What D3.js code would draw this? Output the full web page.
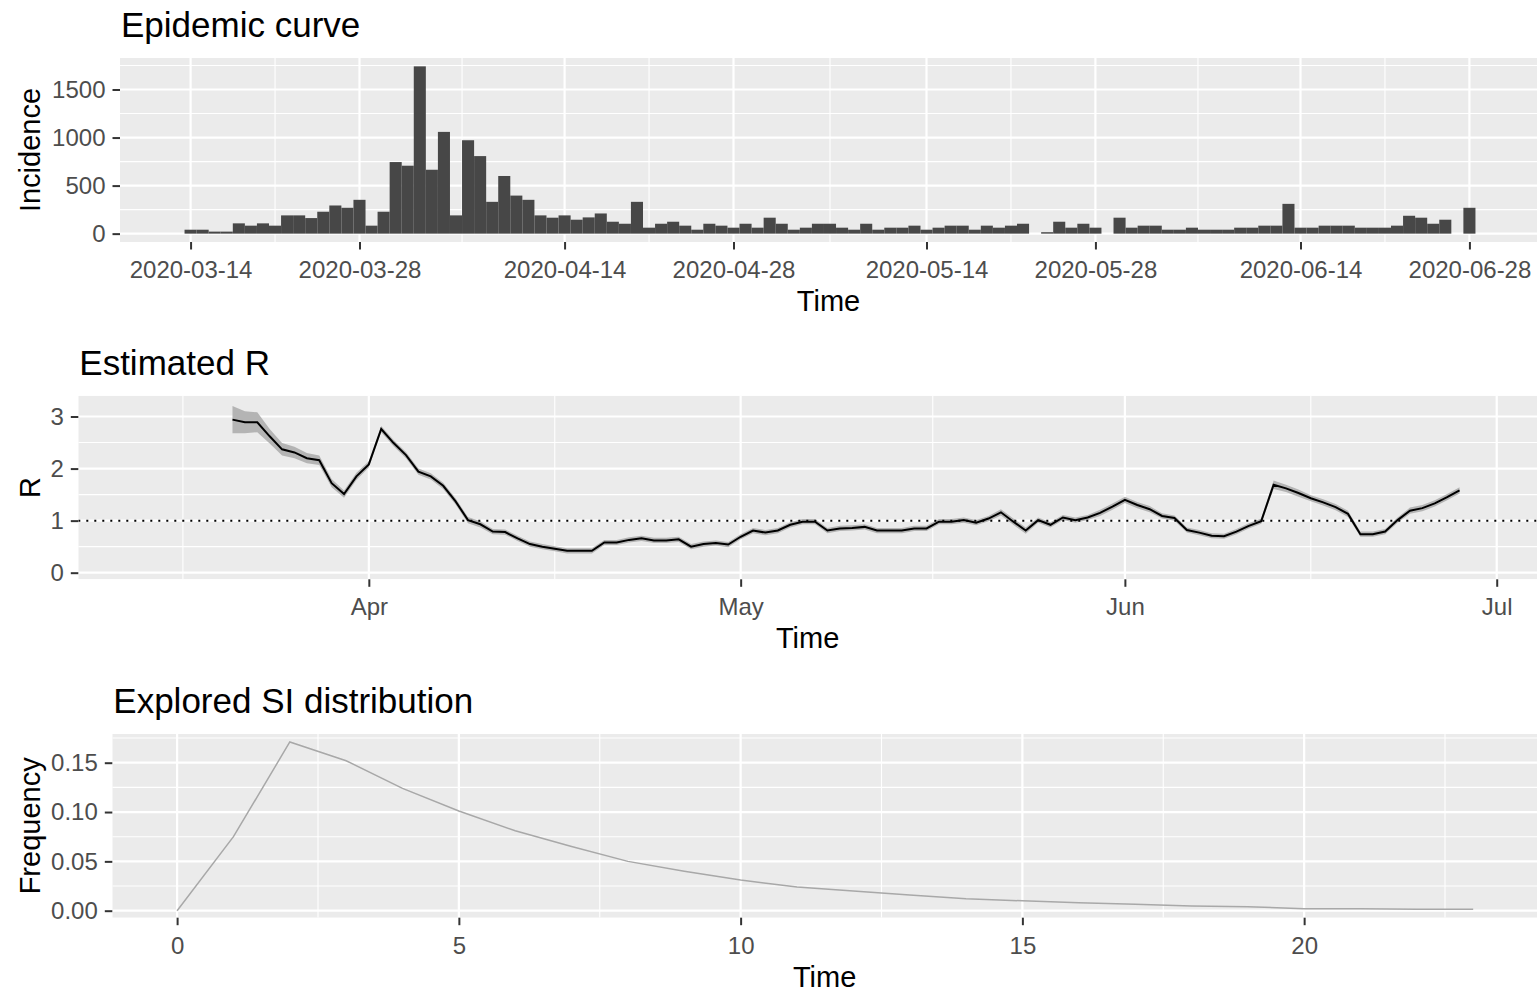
<!DOCTYPE html>
<html>
<head>
<meta charset="utf-8">
<script src="https://cdn.jsdelivr.net/npm/d3@7"></script>
<style>
  body { margin: 0; background: #ffffff; }
  svg { display: block; font-family: "Liberation Sans", Arial, sans-serif; }
</style>
</head>
<body>
<svg id="chart" width="1537" height="995"></svg>
<script>
const DAY = 864e5;
const parse = d3.utcParse("%Y-%m-%d");

// daily incidence, first day 2020-03-14
const incidenceStart = "2020-03-14";
const incidence = [
  41, 41, 21, 21, 107, 83, 107, 83, 190, 190, 162, 228, 293, 269, 352, 83,
  228, 745, 707, 1741, 665, 1059, 190, 972, 807, 331, 600, 396, 352, 190, 166,
  190, 145, 169, 210, 124, 103, 331, 62, 103, 124, 83, 41, 103, 83, 62, 103,
  62, 166, 103, 41, 62, 103, 103, 62, 41, 103, 41, 62, 62, 83, 41, 62, 83, 83,
  41, 83, 62, 83, 103, 0, 15, 124, 62, 103, 62, 0, 166, 62, 83, 83, 41, 41, 62,
  41, 41, 41, 62, 62, 83, 83, 310, 62, 62, 83, 83, 83, 62, 62, 62, 83, 186, 166,
  103, 145, 0, 269
];
const incidenceTicks = ["2020-03-14", "2020-03-28", "2020-04-14", "2020-04-28",
  "2020-05-14", "2020-05-28", "2020-06-14", "2020-06-28"];
const incidenceYTicks = [0, 500, 1000, 1500];

// estimated R (mean and half width of the band), first day 2020-03-21
const rStart = "2020-03-21";
const rMean = [
  2.94, 2.89, 2.89, 2.62, 2.37, 2.31, 2.20, 2.16, 1.72, 1.51, 1.85,
  2.08, 2.76, 2.49, 2.26, 1.94, 1.85, 1.67, 1.37, 1.01, 0.93, 0.79, 0.78, 0.66,
  0.55, 0.50, 0.46, 0.42, 0.42, 0.42, 0.58, 0.58, 0.63, 0.66, 0.62, 0.62, 0.64,
  0.50, 0.55, 0.57, 0.54,
  0.69, 0.81, 0.77, 0.81, 0.92, 0.98, 0.98, 0.81, 0.85, 0.86, 0.88, 0.81, 0.81,
  0.81, 0.85, 0.85, 0.98, 0.98, 1.01, 0.96, 1.04, 1.16, 0.98, 0.81, 1.01, 0.92,
  1.06, 1.01, 1.06, 1.15, 1.27,
  1.40, 1.30, 1.22, 1.09, 1.05, 0.82, 0.77, 0.71, 0.70, 0.79, 0.90, 0.99, 1.69,
  1.62, 1.53, 1.43, 1.35, 1.26, 1.13, 0.74, 0.74, 0.79, 1.01, 1.19, 1.24, 1.33,
  1.45, 1.58
];
const rHalf = [
  0.26, 0.21, 0.19, 0.14, 0.12, 0.11, 0.10, 0.09, 0.08, 0.07, 0.07,
  0.06, 0.06, 0.06, 0.06, 0.06, 0.06, 0.06, 0.06, 0.06, 0.06, 0.05, 0.05, 0.05,
  0.05, 0.05, 0.05, 0.05, 0.05, 0.05, 0.05, 0.05, 0.05, 0.05, 0.05, 0.05, 0.05,
  0.05, 0.05, 0.05, 0.05,
  0.05, 0.05, 0.05, 0.05, 0.05, 0.05, 0.05, 0.05, 0.05, 0.05, 0.05, 0.05, 0.05,
  0.05, 0.05, 0.05, 0.05, 0.05, 0.05, 0.05, 0.05, 0.06, 0.06, 0.06, 0.05, 0.05,
  0.05, 0.05, 0.05, 0.06, 0.06,
  0.06, 0.06, 0.06, 0.05, 0.05, 0.05, 0.05, 0.05, 0.05, 0.05, 0.05, 0.05, 0.08,
  0.07, 0.07, 0.06, 0.06, 0.06, 0.06, 0.05, 0.05, 0.05, 0.05, 0.06, 0.06, 0.06,
  0.06, 0.06
];
const rMonthTicks = ["2020-04-01", "2020-05-01", "2020-06-01", "2020-07-01"];
const rYTicks = [0, 1, 2, 3];

// serial interval distribution, days 0..23
const siValues = [0, 0.075, 0.171, 0.152, 0.124, 0.101, 0.081, 0.065, 0.050,
  0.040, 0.031, 0.024, 0.020, 0.016, 0.012, 0.010, 0.008, 0.0065, 0.0048,
  0.004, 0.002, 0.002, 0.0015, 0.0015];
const siXTicks = [0, 5, 10, 15, 20];
const siYTicks = [0, 0.05, 0.10, 0.15];

const svg = d3.select("#chart");

// minor breaks halfway between majors, one extra step on each side (like ggplot)
function minorBreaks(major) {
  const v = major.map(Number);
  const ext = [v[0] - (v[1] - v[0]), ...v, v[v.length - 1] + (v[v.length - 1] - v[v.length - 2])];
  const out = [];
  for (let i = 0; i < ext.length - 1; i++) out.push((ext[i] + ext[i + 1]) / 2);
  return out;
}

function panel(p, x, y, xMajor, yMajor, xFormat, yFormat, title, yLabel) {
  const g = svg.append("g");
  const clipId = "clip" + Math.round(p.top);
  svg.append("clipPath").attr("id", clipId).append("rect")
    .attr("x", p.left).attr("y", p.top)
    .attr("width", p.right - p.left).attr("height", p.bottom - p.top);

  const grid = g.append("g").attr("clip-path", `url(#${clipId})`);
  grid.append("rect")
    .attr("x", p.left).attr("y", p.top)
    .attr("width", p.right - p.left).attr("height", p.bottom - p.top)
    .attr("fill", "#EBEBEB");

  const xMinor = minorBreaks(xMajor);
  const yMinor = minorBreaks(yMajor);
  grid.selectAll(".ymin").data(yMinor).join("line")
    .attr("x1", p.left).attr("x2", p.right)
    .attr("y1", d => y(d)).attr("y2", d => y(d))
    .attr("stroke", "#fff").attr("stroke-width", 1.1);
  grid.selectAll(".xmin").data(xMinor).join("line")
    .attr("y1", p.top).attr("y2", p.bottom)
    .attr("x1", d => x(d)).attr("x2", d => x(d))
    .attr("stroke", "#fff").attr("stroke-width", 1.1);
  grid.selectAll(".ymaj").data(yMajor).join("line")
    .attr("x1", p.left).attr("x2", p.right)
    .attr("y1", d => y(d)).attr("y2", d => y(d))
    .attr("stroke", "#fff").attr("stroke-width", 2.2);
  grid.selectAll(".xmaj").data(xMajor).join("line")
    .attr("y1", p.top).attr("y2", p.bottom)
    .attr("x1", d => x(d)).attr("x2", d => x(d))
    .attr("stroke", "#fff").attr("stroke-width", 2.2);

  const styleAxis = a => {
    a.select(".domain").remove();
    a.attr("font-family", null).attr("font-size", null);
    a.selectAll(".tick line").attr("stroke", "#333333").attr("stroke-width", 2);
    a.selectAll(".tick text").attr("fill", "#4D4D4D").style("font-size", "24px");
  };

  g.append("g").attr("transform", `translate(0,${p.bottom})`)
    .call(d3.axisBottom(x).tickValues(xMajor).tickFormat(xFormat)
      .tickSize(7.5).tickPadding(11.5).tickSizeOuter(0))
    .call(styleAxis);
  g.append("g").attr("transform", `translate(${p.left},0)`)
    .call(d3.axisLeft(y).tickValues(yMajor).tickFormat(yFormat)
      .tickSize(7.5).tickPadding(7).tickSizeOuter(0))
    .call(styleAxis);

  svg.append("text").attr("x", p.left + 1).attr("y", p.titleY)
    .style("font-size", "35px").attr("fill", "#000").text(title);
  svg.append("text")
    .attr("transform", `translate(39.5,${(p.top + p.bottom) / 2}) rotate(-90)`)
    .attr("text-anchor", "middle").style("font-size", "29px").attr("fill", "#000")
    .text(yLabel);
  svg.append("text").attr("x", (p.left + Math.min(p.right, 1537)) / 2).attr("y", p.timeY)
    .attr("text-anchor", "middle").style("font-size", "29px").attr("fill", "#000")
    .text("Time");

  return grid;
}

// ---------- Epidemic curve ----------
const p1 = { left: 120, right: 1540, top: 58, bottom: 242, titleY: 37, timeY: 311 };
const d0 = parse(incidenceStart);
const incRows = incidence.map((v, i) => ({ date: new Date(+d0 + i * DAY), v }));
const x1 = d3.scaleUtc()
  .domain([new Date(+d0 - 5.85 * DAY), new Date(+incRows[incRows.length - 1].date + 5.85 * DAY)])
  .range([p1.left, p1.right]);
const y1 = d3.scaleLinear().domain([-87, 1828]).range([p1.bottom, p1.top]);
const g1 = panel(p1, x1, y1, incidenceTicks.map(parse), incidenceYTicks,
  d3.utcFormat("%Y-%m-%d"), d3.format("d"), "Epidemic curve", "Incidence");

g1.selectAll(".bar").data(incRows.filter(d => d.v > 0)).join("rect")
  .attr("x", d => x1(new Date(+d.date - DAY / 2)))
  .attr("width", d => x1(new Date(+d.date + DAY / 2)) - x1(new Date(+d.date - DAY / 2)))
  .attr("y", d => y1(d.v))
  .attr("height", d => y1(0) - y1(d.v))
  .attr("fill", "#474747");

// ---------- Estimated R ----------
const p2 = { left: 78.3, right: 1537, top: 395.7, bottom: 579.3, titleY: 375, timeY: 648 };
const r0 = parse(rStart);
const rRows = rMean.map((r, i) => ({ date: new Date(+r0 + i * DAY), r, h: rHalf[i] }));
const x2 = d3.scaleUtc()
  .domain([new Date(Date.UTC(2020, 2, 8) + 0.56 * DAY), new Date(Date.UTC(2020, 6, 4) + 0.25 * DAY)])
  .range([p2.left, p2.right]);
const y2 = d3.scaleLinear().domain([-0.127, 3.40]).range([p2.bottom, p2.top]);
const g2 = panel(p2, x2, y2, rMonthTicks.map(parse), rYTicks,
  d3.utcFormat("%b"), d3.format("d"), "Estimated R", "R");

g2.append("path").datum(rRows)
  .attr("d", d3.area().x(d => x2(d.date)).y0(d => y2(d.r - d.h)).y1(d => y2(d.r + d.h)))
  .attr("fill", "#B4B4B4");
g2.append("line")
  .attr("x1", p2.left).attr("x2", p2.right)
  .attr("y1", y2(1)).attr("y2", y2(1))
  .attr("stroke", "#000").attr("stroke-width", 2).attr("stroke-dasharray", "2 6");
g2.append("path").datum(rRows)
  .attr("d", d3.line().x(d => x2(d.date)).y(d => y2(d.r)))
  .attr("fill", "none").attr("stroke", "#000").attr("stroke-width", 2);

// ---------- Explored SI distribution ----------
const p3 = { left: 112.3, right: 1538, top: 734, bottom: 917.7, titleY: 713, timeY: 987 };
const x3 = d3.scaleLinear().domain([-1.15, 24.15]).range([p3.left, p3.right]);
const y3 = d3.scaleLinear().domain([-0.0071, 0.1791]).range([p3.bottom, p3.top]);
const g3 = panel(p3, x3, y3, siXTicks, siYTicks,
  d3.format("d"), d3.format(".2f"), "Explored SI distribution", "Frequency");

g3.append("path").datum(siValues)
  .attr("d", d3.line().x((d, i) => x3(i)).y(d => y3(d)))
  .attr("fill", "none").attr("stroke", "#A8A8A8").attr("stroke-width", 1.5);
</script>
</body>
</html>
